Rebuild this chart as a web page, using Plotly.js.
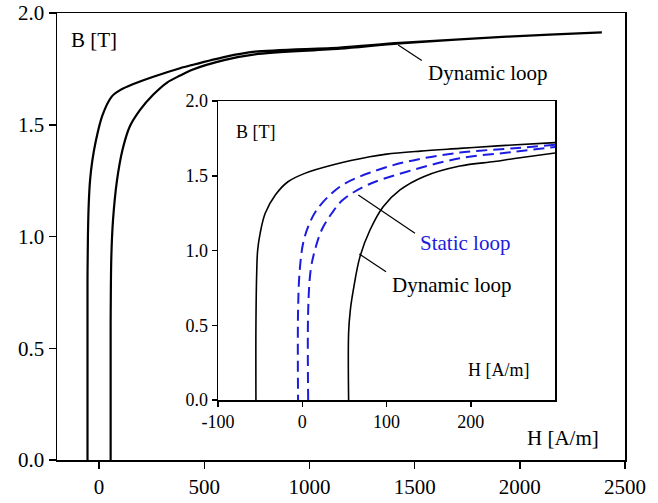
<!DOCTYPE html>
<html>
<head>
<meta charset="utf-8">
<script src="https://cdn.plot.ly/plotly-3.0.1.min.js"></script>
<style>
  html, body { margin: 0; padding: 0; background: #ffffff; }
  #chart { width: 658px; height: 503px; }
</style>
</head>
<body>
<div id="chart"></div>
<script>
// Dynamic B-H loop, full excursion: rising branch (bottom -> tip)
const dynRiseH = [55, 55, 58, 66, 85, 112, 145, 194, 258, 325, 385, 440, 599, 741, 1145, 1430, 1938, 2390];
const dynRiseB = [0.0, 0.6, 0.9, 1.07, 1.25, 1.39, 1.49, 1.565, 1.635, 1.69, 1.72, 1.745, 1.79, 1.815, 1.840, 1.864, 1.894, 1.913];
// Dynamic loop, falling branch (tip -> bottom)
const dynFallH = [2390, 1938, 1430, 1145, 741, 599, 440, 385, 258, 163, 100, 60, 15, -15, -32, -43, -49, -53, -55, -55];
const dynFallB = [1.913, 1.894, 1.866, 1.845, 1.827, 1.804, 1.767, 1.753, 1.715, 1.682, 1.655, 1.626, 1.54, 1.43, 1.34, 1.25, 1.15, 1.0, 0.8, 0.0];

// Low-field detail: dynamic loop
const inDynRiseH = [55, 55, 57, 60.6, 68.5, 80.4, 96, 116, 144, 187, 228, 252, 300];
const inDynRiseB = [0.0, 0.45, 0.6, 0.736, 0.959, 1.137, 1.293, 1.405, 1.494, 1.565, 1.595, 1.615, 1.652];
const inDynFallH = [300, 232, 187, 140, 100, 80, 38, 3, -17, -32, -44, -50, -53, -54, -55, -55];
const inDynFallB = [1.722, 1.700, 1.683, 1.665, 1.645, 1.627, 1.575, 1.516, 1.460, 1.371, 1.249, 1.115, 1.0, 0.87, 0.5, 0.0];

// Low-field detail: static loop
const statRiseH = [7, 7, 10, 15, 23, 35, 48, 78, 124, 187, 252, 300];
const statRiseB = [0.0, 0.6, 0.87, 1.003, 1.137, 1.249, 1.338, 1.44, 1.527, 1.617, 1.66, 1.693];
const statFallH = [300, 252, 187, 124, 80, 51, 35, 17, 7, 1, -3, -5, -5];
const statFallB = [1.707, 1.684, 1.655, 1.594, 1.52, 1.449, 1.383, 1.271, 1.159, 1.048, 0.87, 0.6, 0.0];

// Axis ticks
const mainXTicks = [0, 500, 1000, 1500, 2000, 2500];
const mainYTicks = [0.0, 0.5, 1.0, 1.5, 2.0];
const insetXTicks = [-100, 0, 100, 200];
const insetXLabels = ['-100', '0', '100', '200'];
const insetYTicks = [0.0, 0.5, 1.0, 1.5, 2.0];

const SERIF = 'Liberation Serif, Times New Roman, serif';
const BLUE = '#1c1ce0';

const traces = [
  { x: dynRiseH.concat(dynFallH), y: dynRiseB.concat(dynFallB),
    xaxis: 'x', yaxis: 'y', mode: 'lines', line: { color: '#000', width: 2.2, shape: 'spline', smoothing: 0.8 },
    hoverinfo: 'skip' },
  { x: inDynRiseH, y: inDynRiseB, xaxis: 'x2', yaxis: 'y2', mode: 'lines',
    line: { color: '#000', width: 1.6, shape: 'spline', smoothing: 1 }, hoverinfo: 'skip' },
  { x: inDynFallH, y: inDynFallB, xaxis: 'x2', yaxis: 'y2', mode: 'lines',
    line: { color: '#000', width: 1.6, shape: 'spline', smoothing: 1 }, hoverinfo: 'skip' },
  { x: statRiseH, y: statRiseB, xaxis: 'x2', yaxis: 'y2', mode: 'lines',
    line: { color: BLUE, width: 2, dash: '11px,6px', shape: 'spline', smoothing: 1 }, hoverinfo: 'skip' },
  { x: statFallH, y: statFallB, xaxis: 'x2', yaxis: 'y2', mode: 'lines',
    line: { color: BLUE, width: 2, dash: '11px,6px', shape: 'spline', smoothing: 1 }, hoverinfo: 'skip' }
];

const axisCommon = {
  showline: true, linecolor: '#000', linewidth: 1.5, mirror: true,
  ticks: 'outside', tickcolor: '#000', tickwidth: 1.5,
  showgrid: false, zeroline: false, fixedrange: true
};

const layout = {
  width: 658, height: 503,
  margin: { l: 57, r: 33, t: 13, b: 43 },
  paper_bgcolor: '#fff', plot_bgcolor: '#fff',
  showlegend: false,
  font: { family: SERIF, color: '#000' },
  xaxis: Object.assign({}, axisCommon, {
    domain: [0, 1], range: [-200, 2500], tickvals: mainXTicks, ticklen: 7,
    tickfont: { family: SERIF, size: 21, color: '#000' }, anchor: 'y'
  }),
  yaxis: Object.assign({}, axisCommon, {
    domain: [0, 1], range: [0, 2], tickvals: mainYTicks, tickformat: '.1f', ticklen: 7,
    tickfont: { family: SERIF, size: 21, color: '#000' }, anchor: 'x'
  }),
  xaxis2: Object.assign({}, axisCommon, {
    domain: [0.2835, 0.8768], range: [-100, 300], tickvals: insetXTicks, ticktext: insetXLabels, ticklen: 5,
    tickfont: { family: SERIF, size: 18, color: '#000' }, anchor: 'y2'
  }),
  yaxis2: Object.assign({}, axisCommon, {
    domain: [0.1342, 0.8031], range: [0, 2], tickvals: insetYTicks, tickformat: '.1f', ticklen: 5,
    tickfont: { family: SERIF, size: 18, color: '#000' }, anchor: 'x2'
  }),
  shapes: [
    { type: 'line', xref: 'x', yref: 'y', x0: 1422, y0: 1.857, x1: 1534, y1: 1.787,
      line: { color: '#000', width: 1.2 } },
    { type: 'line', xref: 'x2', yref: 'y2', x0: 66.5, y0: 1.371, x1: 133.8, y1: 1.115,
      line: { color: '#000', width: 1.2 } },
    { type: 'line', xref: 'x2', yref: 'y2', x0: 67.7, y0: 0.977, x1: 99.4, y1: 0.858,
      line: { color: '#000', width: 1.2 } }
  ],
  annotations: [
    { xref: 'x', yref: 'y', x: -22, y: 1.879, text: 'B [T]', showarrow: false,
      font: { family: SERIF, size: 21, color: '#000' } },
    { xref: 'x', yref: 'y', x: 2205, y: 0.098, text: 'H [A/m]', showarrow: false,
      font: { family: SERIF, size: 21, color: '#000' } },
    { xref: 'x', yref: 'y', x: 1849, y: 1.732, text: 'Dynamic loop', showarrow: false,
      font: { family: SERIF, size: 21, color: '#000' } },
    { xref: 'x2', yref: 'y2', x: -55.5, y: 1.795, text: 'B [T]', showarrow: false,
      font: { family: SERIF, size: 18, color: '#000' } },
    { xref: 'x2', yref: 'y2', x: 233.5, y: 0.2, text: 'H [A/m]', showarrow: false,
      font: { family: SERIF, size: 18, color: '#000' } },
    { xref: 'x2', yref: 'y2', x: 192.6, y: 1.048, text: 'Static loop', showarrow: false,
      font: { family: SERIF, size: 21, color: BLUE } },
    { xref: 'x2', yref: 'y2', x: 177.4, y: 0.769, text: 'Dynamic loop', showarrow: false,
      font: { family: SERIF, size: 21, color: '#000' } }
  ]
};

Plotly.newPlot('chart', traces, layout, { staticPlot: true, displayModeBar: false });
</script>
</body>
</html>
